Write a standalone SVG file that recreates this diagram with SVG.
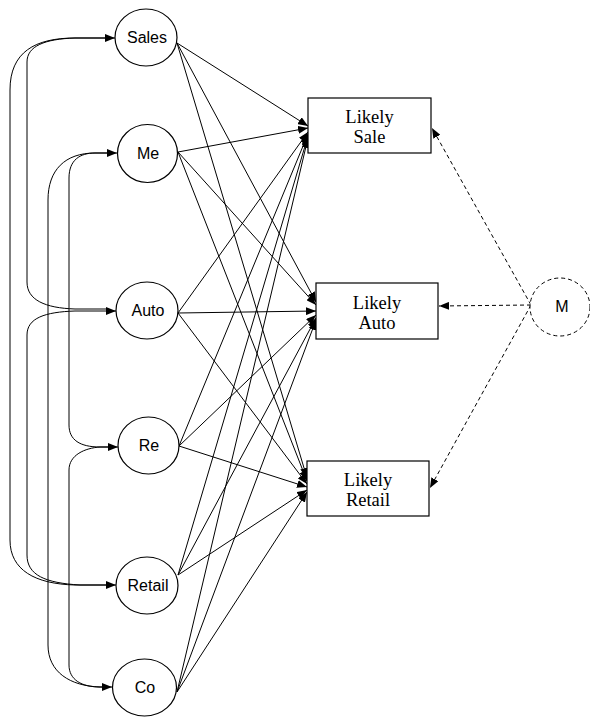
<svg xmlns="http://www.w3.org/2000/svg" width="590" height="718" viewBox="0 0 590 718">
<style>
.n{fill:#fff;stroke:#000;stroke-width:1.2}
.d{fill:#fff;stroke:#000;stroke-width:1;stroke-dasharray:4,3}
.t{font-family:"Liberation Sans",Arial,sans-serif;font-size:16px;text-anchor:middle;fill:#000}
.s{font-family:"Liberation Serif","Times New Roman",serif;font-size:18.5px;text-anchor:middle;fill:#000}
.e{fill:none;stroke:#000;stroke-width:1;marker-end:url(#a)}
.de{fill:none;stroke:#000;stroke-width:1;stroke-dasharray:4,3;marker-end:url(#a)}
</style>
<defs>
<marker id="a" markerUnits="userSpaceOnUse" markerWidth="10" markerHeight="8" refX="10" refY="4" orient="auto">
<path d="M0,0 L10,4 L0,8 z" fill="#000"/>
</marker>
</defs>
<g id="connectors">
<path class="e" d="M106,38 H75 C35,38 10,52 10,90 V540 C10,570 35,584 75,585 L116,585"/>
<path class="e" d="M106,309 H75 C45,308 27,300 27,282 V62 C27,46 45,39 75,38 H115"/>
<path class="e" d="M106,585 H80 C45,583 27,575 27,555 V335 C27,318 45,312 75,311 H116"/>
<path class="e" d="M108,447 H100 C80,447 69,440 69,425 V178 C69,160 80,153 95,153 H117"/>
<path class="e" d="M108,153 H95 C65,153 48,170 48,200 V645 C48,672 70,686 100,687 H112"/>
<path class="e" d="M105,687 H100 C82,687 69,680 69,665 V470 C69,455 85,448 100,447 H118"/>
<line class="e" x1="177" y1="43" x2="308" y2="126"/>
<line class="e" x1="177" y1="43" x2="316" y2="302"/>
<line class="e" x1="177" y1="43" x2="307" y2="478"/>
<line class="e" x1="178" y1="152" x2="308" y2="128"/>
<line class="e" x1="178" y1="152" x2="316" y2="305"/>
<line class="e" x1="178" y1="152" x2="307" y2="481"/>
<line class="e" x1="178" y1="313" x2="308" y2="132"/>
<line class="e" x1="178" y1="313" x2="316" y2="311"/>
<line class="e" x1="178" y1="313" x2="307" y2="484"/>
<line class="e" x1="179" y1="446" x2="308" y2="134"/>
<line class="e" x1="179" y1="446" x2="316" y2="315"/>
<line class="e" x1="179" y1="446" x2="307" y2="487"/>
<line class="e" x1="178" y1="575" x2="308" y2="136"/>
<line class="e" x1="178" y1="575" x2="316" y2="318"/>
<line class="e" x1="178" y1="575" x2="307" y2="490"/>
<line class="e" x1="177" y1="692" x2="308" y2="138"/>
<line class="e" x1="177" y1="692" x2="316" y2="320"/>
<line class="e" x1="177" y1="692" x2="307" y2="492"/>
<line class="de" x1="531" y1="305" x2="432" y2="128"/>
<line class="de" x1="531" y1="305" x2="439" y2="306"/>
<line class="de" x1="531" y1="305" x2="430" y2="488"/>
</g>
<g id="Sales"><ellipse class="n" cx="146" cy="37.5" rx="31" ry="28.5"/><text class="t" x="147" y="43">Sales</text></g>
<g id="Me"><ellipse class="n" cx="147.5" cy="153.5" rx="30" ry="29"/><text class="t" x="148" y="159">Me</text></g>
<g id="Auto"><ellipse class="n" cx="147" cy="310.5" rx="31" ry="28.5"/><text class="t" x="148" y="316">Auto</text></g>
<g id="Re"><ellipse class="n" cx="148.5" cy="445.5" rx="30.5" ry="28.5"/><text class="t" x="149" y="451">Re</text></g>
<g id="Retail"><ellipse class="n" cx="147" cy="585.5" rx="31" ry="28.5"/><text class="t" x="148" y="591">Retail</text></g>
<g id="Co"><ellipse class="n" cx="144.5" cy="687.5" rx="32" ry="28.5"/><text class="t" x="145" y="693">Co</text></g>
<g id="LikelySale"><rect class="n" x="308" y="98" width="123" height="55"/><text class="s" x="369.5" y="123">Likely</text><text class="s" x="369.5" y="143">Sale</text></g>
<g id="LikelyAuto"><rect class="n" x="316" y="283" width="122" height="56"/><text class="s" x="377" y="309">Likely</text><text class="s" x="377" y="329">Auto</text></g>
<g id="LikelyRetail"><rect class="n" x="307" y="461" width="122" height="55"/><text class="s" x="368" y="486">Likely</text><text class="s" x="368" y="506">Retail</text></g>
<g id="M"><ellipse class="d" cx="560" cy="307" rx="30" ry="29"/><text class="t" x="562" y="312">M</text></g>
</svg>
